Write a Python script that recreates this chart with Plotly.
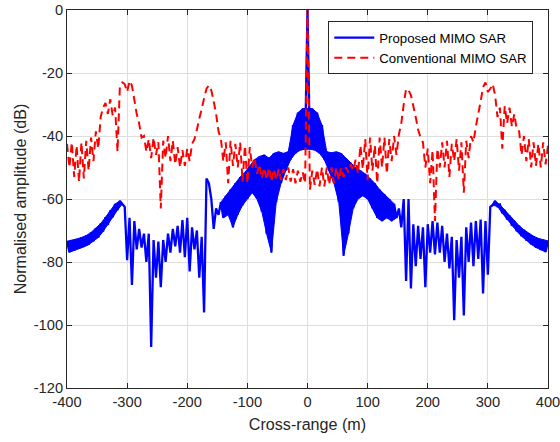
import numpy as np
import plotly.graph_objects as go

# Cross-range sample positions (m). The image responses oscillate very fast;
# each series is read as the crest values at x_top and the trough values at x_bottom.
x_top = np.arange(-400, 401, 8)      # 101 positions
x_bottom = np.arange(-396, 397, 8)   # 100 positions

x_ticks = [-400, -300, -200, -100, 0, 100, 200, 300, 400]
y_ticks = [-120, -100, -80, -60, -40, -20, 0]

# Proposed MIMO SAR (dB)
proposed_top = [
    -73.4, -73.1, -72.7, -72.2, -71.6, -70.6, -69.3, -67.8, -65.8, -63.6,   # -400..-328
    -61.6, -60.6, -62.5, -66.0, -67.0, -69.5, -71.0, -71.0, -73.0, -73.5,   # -320..-248
    -73.0, -71.0, -69.5, -68.5, -66.7, -66.0, -69.0, -70.0, -72.0, -53.5,   # -240..-168
    -60.0, -63.0, -61.0, -59.0, -57.0, -55.0, -53.0, -51.5, -49.5, -47.5,   # -160..-88
    -46.5, -46.0, -47.0, -45.5, -45.0, -45.5, -45.0, -36.5, -32.6, -31.3,   # -80..-8
    0.0, -31.3, -32.6, -36.5, -45.0, -45.3, -45.0, -45.5, -47.0, -48.5,     # 0..72
    -50.0, -51.0, -52.0, -53.5, -55.0, -57.0, -58.5, -60.0, -61.5, -63.0,   # 80..152
    -60.0, -60.0, -68.0, -68.5, -69.0, -68.0, -67.0, -67.5, -68.5, -71.0,   # 160..232
    -72.0, -73.0, -72.0, -69.0, -67.5, -67.0, -66.5, -67.0, -62.5, -60.6,   # 240..312
    -61.8, -63.5, -65.3, -67.0, -68.5, -69.8, -70.9, -71.8, -72.5, -73.0,   # 320..392
    -73.3,                                                                   # 400
]
proposed_bottom = [
    -76.9, -76.4, -75.8, -75.2, -74.5, -73.4, -72.2, -70.3, -68.2, -65.8,   # -396..-324
    -63.5, -61.6, -79.4, -87.3, -76.0, -75.4, -80.0, -107.0, -85.0, -88.0,  # -316..-244
    -80.0, -77.0, -75.0, -77.0, -78.5, -83.0, -76.0, -85.0, -96.0, -55.0,   # -236..-164
    -69.5, -65.0, -66.0, -65.0, -69.0, -65.0, -62.0, -60.0, -58.0, -60.0,   # -156..-84
    -64.0, -71.0, -77.0, -61.0, -55.0, -51.0, -47.5, -45.5, -44.5, -44.2,   # -76..-4
    -44.2, -44.5, -45.5, -47.5, -51.0, -55.0, -61.0, -78.0, -71.0, -63.0,   # 4..76
    -60.0, -59.0, -60.0, -63.0, -66.0, -67.0, -66.0, -67.0, -66.0, -69.0,   # 84..156
    -86.0, -88.4, -81.3, -79.0, -88.0, -77.0, -77.6, -77.0, -80.0, -82.0,   # 164..236
    -98.5, -85.0, -97.0, -80.0, -81.3, -79.0, -90.0, -84.0, -62.0, -62.3,   # 244..316
    -64.5, -66.5, -68.5, -70.2, -71.8, -73.2, -74.4, -75.4, -76.2, -76.8,   # 324..396
]

# Conventional MIMO SAR (dB)
conventional_top = [
    -42.5, -42.0, -43.0, -42.0, -41.5, -40.5, -38.5, -34.0, -29.5, -28.3,   # -400..-328
    -31.0, -24.0, -23.5, -22.5, -28.5, -36.0, -40.0, -41.0, -40.5, -42.0,   # -320..-248
    -41.5, -40.0, -41.5, -43.5, -44.5, -44.0, -42.5, -38.0, -31.5, -25.0,   # -240..-168
    -25.5, -33.0, -41.0, -42.0, -41.5, -42.5, -42.0, -43.0, -43.5, -47.0,   # -160..-88
    -49.0, -50.0, -50.0, -50.5, -50.5, -50.5, -50.0, -50.5, -51.0, -51.5,   # -80..-8
    0.0, -51.0, -50.5, -50.0, -50.0, -50.0, -50.0, -50.0, -50.0, -49.0,     # 0..72
    -47.5, -43.0, -41.0, -40.5, -43.0, -40.5, -40.5, -41.0, -40.0, -39.5,   # 80..152
    -30.0, -25.5, -30.5, -38.0, -42.0, -44.0, -44.5, -44.0, -42.0, -41.5,   # 160..232
    -42.5, -41.0, -42.0, -41.5, -40.0, -37.0, -29.0, -23.0, -25.0, -27.0,   # 240..312
    -31.0, -30.5, -31.0, -33.0, -38.5, -40.0, -41.0, -42.0, -42.5, -42.0,   # 320..392
    -43.0,                                                                   # 400
]
conventional_bottom = [
    -50.0, -53.0, -54.5, -53.5, -51.0, -48.0, -44.0, -31.0, -33.0, -33.5,   # -396..-324
    -45.0, -23.0, -26.0, -24.0, -33.0, -40.5, -45.0, -47.0, -46.0, -63.0,   # -316..-244
    -47.0, -48.0, -49.0, -50.0, -49.5, -48.0, -41.0, -34.5, -28.0, -23.9,   # -236..-164
    -29.0, -38.5, -48.0, -55.0, -49.5, -50.0, -54.5, -55.0, -50.0, -52.0,   # -156..-84
    -53.5, -54.0, -54.5, -54.0, -54.0, -54.0, -54.5, -55.0, -54.5, -55.0,   # -76..-4
    -57.0, -55.5, -56.0, -56.0, -55.5, -55.0, -54.0, -53.0, -51.5, -51.0,   # 4..76
    -52.0, -50.5, -54.0, -51.0, -55.0, -50.0, -52.0, -48.0, -46.0, -36.0,   # 84..156
    -25.0, -27.0, -34.0, -40.5, -50.0, -55.0, -67.0, -50.0, -50.0, -53.0,   # 164..236
    -48.0, -51.0, -58.0, -47.0, -42.0, -33.0, -24.5, -26.0, -23.5, -34.0,   # 244..316
    -44.0, -36.0, -37.0, -38.0, -46.0, -48.0, -50.0, -49.5, -50.0, -49.0,   # 324..396
]

# Cross-range spans where the proposed response oscillates so fast it reads as a solid band
band_spans = [(-400, -304), (-144, 148), (304, 400)]
mainlobe_peak = 0  # the single target spike, drawn by the line itself


def zigzag(top, bottom):
    xs, ys = [], []
    for i in range(len(x_top)):
        xs.append(float(x_top[i]))
        ys.append(top[i])
        if i < len(x_bottom):
            xs.append(float(x_bottom[i]))
            ys.append(bottom[i])
    return xs, ys


px_, py_ = zigzag(proposed_top, proposed_bottom)
cx_, cy_ = zigzag(conventional_top, conventional_bottom)

ink = '#262626'
fam = 'Liberation Sans, Arial, Helvetica, sans-serif'
blue = '#0000ff'
red = '#ff0000'

fig = go.Figure()

pt = np.array(proposed_top)
pb = np.array(proposed_bottom)
for lo, hi in band_spans:
    mt = (x_top >= lo) & (x_top <= hi) & (x_top != mainlobe_peak)
    mb = (x_bottom >= lo) & (x_bottom <= hi)
    fig.add_trace(go.Scatter(x=x_top[mt], y=pt[mt], mode='lines',
                             line=dict(color=blue, width=1), showlegend=False, hoverinfo='skip'))
    fig.add_trace(go.Scatter(x=x_bottom[mb], y=pb[mb], mode='lines', fill='tonexty',
                             fillcolor=blue, line=dict(color=blue, width=1),
                             showlegend=False, hoverinfo='skip'))

fig.add_trace(go.Scatter(
    x=px_, y=py_, mode='lines', name='Proposed MIMO SAR',
    line=dict(color=blue, width=2.3, simplify=False),
))
fig.add_trace(go.Scatter(
    x=cx_, y=cy_, mode='lines', name='Conventional MIMO SAR',
    line=dict(color=red, width=2, dash='8px,5px', simplify=False),
))

axis_common = dict(
    showgrid=True, gridcolor='#dedede', gridwidth=1,
    showline=True, linecolor=ink, linewidth=1, mirror='ticks',
    ticks='inside', ticklen=5, tickcolor=ink, tickwidth=1,
    zeroline=False, tickfont=dict(family=fam, size=14.67, color=ink),
    ticklabeloverflow='allow', automargin=False,
)

fig.update_layout(
    width=560, height=442,
    margin=dict(l=67, r=12, t=9.5, b=54),
    paper_bgcolor='white', plot_bgcolor='white',
    font=dict(family=fam, color=ink, size=14.67),
    xaxis=dict(range=[-400, 400], tickvals=x_ticks, ticktext=[str(v) for v in x_ticks],
               title=dict(text='Cross-range (m)', font=dict(family=fam, size=16.13, color=ink), standoff=10),
               **axis_common),
    yaxis=dict(range=[-120, 0], tickvals=y_ticks, ticktext=[str(v) for v in y_ticks],
               title=dict(text='Normalised amplitude (dB)', font=dict(family=fam, size=16.13, color=ink), standoff=3),
               **axis_common),
    legend=dict(x=0.9694, xanchor='right', y=0.9696, yanchor='top',
                bgcolor='white', bordercolor=ink, borderwidth=1,
                font=dict(family=fam, size=13.2, color='#000000'),
                itemwidth=40, tracegroupgap=0, traceorder='normal'),
)

fig.write_html('out.html', config={'displayModeBar': False},
               post_script="document.body.style.margin='0px';document.body.style.overflow='hidden';")
